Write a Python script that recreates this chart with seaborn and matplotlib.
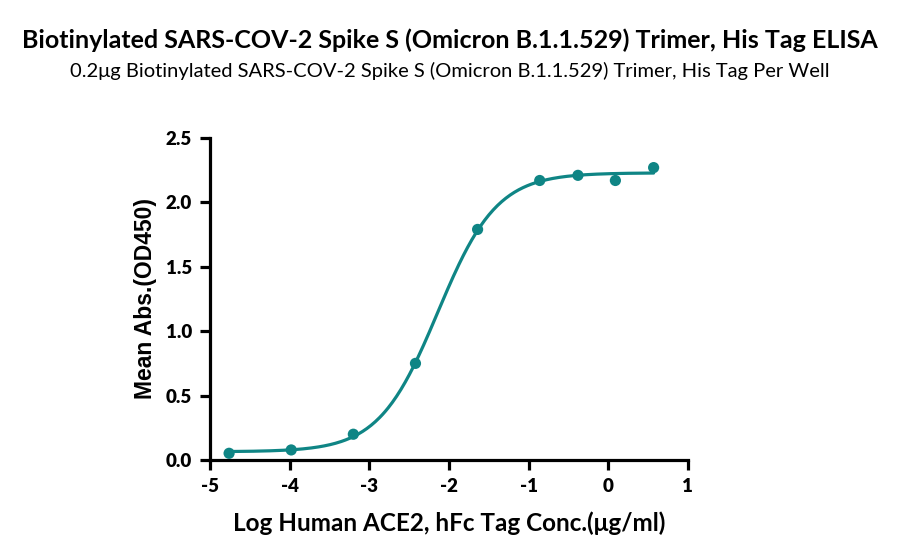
import numpy as np
import pandas as pd
import matplotlib
matplotlib.use("Agg")
import matplotlib.pyplot as plt
import seaborn as sns

sns.set_style("ticks")
plt.rcParams["axes.unicode_minus"] = False
plt.rcParams["text.color"] = "black"
plt.rcParams["axes.labelcolor"] = "black"
plt.rcParams["xtick.color"] = "black"
plt.rcParams["ytick.color"] = "black"
plt.rcParams["axes.edgecolor"] = "black"

# data
log_conc = [-4.76, -3.98, -3.20, -2.42, -1.64, -0.86, -0.38, 0.09, 0.57]
mean_abs = [0.052, 0.078, 0.20, 0.75, 1.79, 2.17, 2.21, 2.17, 2.27]

title = "Biotinylated SARS-COV-2 Spike S (Omicron B.1.1.529) Trimer, His Tag ELISA"
subtitle = "0.2\u03bcg Biotinylated SARS-COV-2 Spike S (Omicron B.1.1.529) Trimer, His Tag Per Well"
xlabel = "Log Human ACE2, hFc Tag Conc.(\u03bcg/ml)"
ylabel = "Mean Abs.(OD450)"
teal = "#0f8585"

df = pd.DataFrame({"x": log_conc, "y": mean_abs})


def fit_4pl(x, y):
    # grid over ec50 / hill, bottom & top solved linearly
    x = np.asarray(x); y = np.asarray(y)
    best = None
    for ec in np.linspace(-4, 0, 401):
        for h in np.linspace(0.3, 3, 271):
            f = 1 / (1 + 10 ** ((ec - x) * h))
            A = np.column_stack([1 - f, f])
            coef, *_ = np.linalg.lstsq(A, y, rcond=None)
            err = np.sum((A @ coef - y) ** 2)
            if best is None or err < best[0]:
                best = (err, coef[0], coef[1], ec, h)
    return best[1:]


bottom, top, ec50, hill = fit_4pl(log_conc, mean_abs)
xs = np.linspace(min(log_conc), max(log_conc), 300)
curve = pd.DataFrame({"x": xs, "y": bottom + (top - bottom) / (1 + 10 ** ((ec50 - xs) * hill))})

fig = plt.figure(figsize=(9, 5.6), dpi=100)
ax = fig.add_axes([0.2333, 0.1786, 0.531, 0.575])

sns.lineplot(data=curve, x="x", y="y", ax=ax, color=teal, linewidth=2.3)
sns.scatterplot(data=df, x="x", y="y", ax=ax, color=teal, s=65, edgecolor="none", zorder=3)

ax.set_xlim(-5, 1)
ax.set_ylim(0, 2.5)
ax.set_xticks(range(-5, 2))
ax.set_yticks([0, 0.5, 1.0, 1.5, 2.0, 2.5])
ax.set_yticklabels(["0.0", "0.5", "1.0", "1.5", "2.0", "2.5"])
sns.despine(ax=ax)
for s in ["left", "bottom"]:
    ax.spines[s].set_linewidth(2.3)
ax.tick_params(width=2.3, length=7, labelsize=13.5, pad=6)
for lab in ax.get_xticklabels() + ax.get_yticklabels():
    lab.set_fontweight("heavy")
    lab.set_family(["Lato", "DejaVu Sans"])

ax.set_xlabel(xlabel, fontsize=17.5, fontweight="bold", family=["Lato", "DejaVu Sans"], labelpad=12)
ax.set_ylabel(ylabel, fontsize=16.5, fontweight="bold", family=["Liberation Sans", "DejaVu Sans"], labelpad=6)

fig.text(0.5, 0.928, title, ha="center", va="center", fontsize=18, fontweight="bold",
         family=["Lato", "DejaVu Sans"])
fig.text(0.5, 0.874, subtitle, ha="center", va="center", fontsize=14.5,
         family=["Lato", "DejaVu Sans"])

fig.savefig("out.png", dpi=100)
